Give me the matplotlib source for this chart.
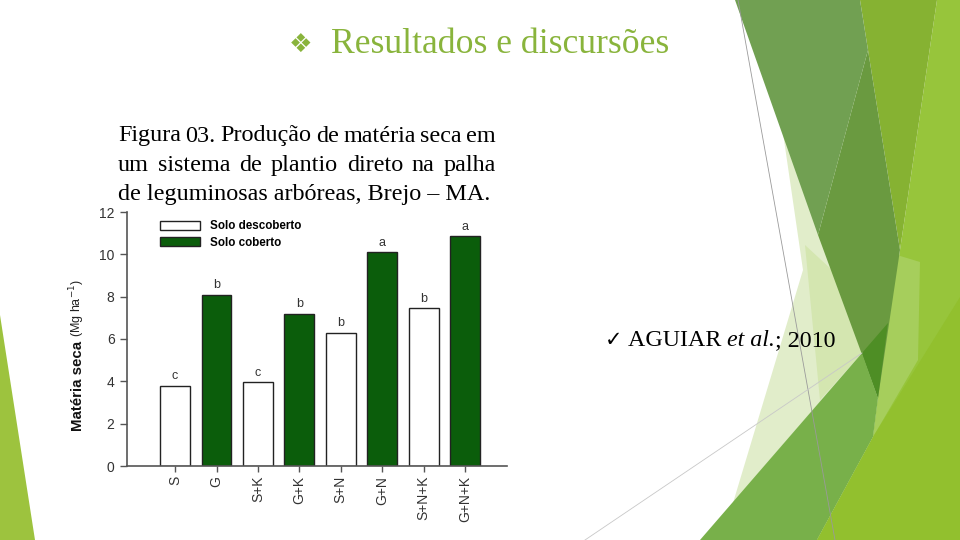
import matplotlib.pyplot as plt
from matplotlib.patches import Polygon, Patch
from matplotlib.lines import Line2D

# dados do gráfico (Figura 03)
categorias = ['S', 'G', 'S+K', 'G+K', 'S+N', 'G+N', 'S+N+K', 'G+N+K']
materia_seca = [3.8, 8.1, 3.95, 7.2, 6.3, 10.1, 7.45, 10.85]
letras = ['c', 'b', 'c', 'b', 'b', 'a', 'b', 'a']
legenda = ['Solo descoberto', 'Solo coberto']

titulo = 'Resultados e discursões'
legenda_fig = ['Figura 03. Produção de matéria seca em',
               'um sistema de plantio direto na palha',
               'de leguminosas arbóreas, Brejo – MA.']

W, H = 960, 540
VERDE = '#0b5d0b'
SERIF = ['Liberation Serif', 'DejaVu Sans']
plt.rcParams['font.family'] = ['Liberation Sans', 'DejaVu Sans']


def fx(x):
    return x / W


def fy(y):
    return 1 - y / H


def poligono(pts, cor):
    fig.add_artist(Polygon([(fx(a), fy(b)) for a, b in pts], closed=True,
                           transform=fig.transFigure, facecolor=cor,
                           edgecolor='none', zorder=-5))


def linha(p0, p1, cor):
    fig.add_artist(Line2D([fx(p0[0]), fx(p1[0])], [fy(p0[1]), fy(p1[1])],
                          transform=fig.transFigure, color=cor, lw=0.6, zorder=-4))


fig = plt.figure(figsize=(9.6, 5.4), dpi=100)
fig.patch.set_facecolor('white')

# fundo decorativo (tema do slide)
poligono([(0, 315), (35, 540), (0, 540)], '#9dc33e')
poligono([(783, 133), (803, 270), (733, 503), (862, 353), (878, 398)], '#e1edca')
poligono([(805, 245), (832, 270), (862, 353), (820, 400)], '#d4e6b0')
poligono([(937, 0), (960, 0), (960, 540), (817, 540), (873, 437), (878, 398), (900, 250)], '#97c53b')
poligono([(897, 255), (920, 262), (918, 360), (873, 437), (878, 398)], '#a6ce5c')
poligono([(860, 0), (937, 0), (900, 250)], '#86b232')
poligono([(735, 0), (860, 0), (868, 50), (818, 235)], '#71a052')
poligono([(868, 50), (900, 250), (878, 398), (818, 235)], '#6a9a40')
poligono([(700, 540), (862, 353), (878, 398), (873, 437), (817, 540)], '#78b04a')
poligono([(817, 540), (873, 437), (960, 297), (960, 540)], '#92c02e')
poligono([(862, 353), (888, 323), (878, 398)], '#4e8e25')
linha((738, 0), (835, 540), '#9a9a9a')
linha((585, 540), (862, 353), '#c8c8c8')

# título
fig.text(fx(289), fy(52), '\u2756', family='DejaVu Sans', fontsize=19,
         color='#89b43c', va='baseline')
fig.text(fx(331), fy(53), titulo, family=SERIF, fontsize=25.7,
         color='#89b43c', va='baseline')

# legenda da figura, justificada
renderer = fig.canvas.get_renderer()
esq, dir_ = 118, 496
for i, texto in enumerate(legenda_fig):
    yb = fy(141.5 + i * 29.5)
    if i < 2:
        palavras = texto.split()
        textos = [fig.text(0, yb, p, family=SERIF, fontsize=17.4, va='baseline')
                  for p in palavras]
        larguras = [t.get_window_extent(renderer).width for t in textos]
        gap = (dir_ - esq - sum(larguras)) / (len(palavras) - 1)
        xp = esq
        for t, w in zip(textos, larguras):
            t.set_x(fx(xp))
            xp += w + gap
    else:
        fig.text(fx(esq), yb, texto, family=SERIF, fontsize=17.4, va='baseline')

# citação
fig.text(fx(605), fy(346), '\u2713', family='DejaVu Sans', fontsize=15, va='baseline')
xp = 628
for parte, estilo in [('AGUIAR ', 'normal'), ('et al.', 'italic'), ('; 2010', 'normal')]:
    t = fig.text(fx(xp), fy(346), parte, family=SERIF, fontsize=17.3,
                 style=estilo, va='baseline')
    xp += t.get_window_extent(renderer).width

# gráfico de barras
ax = fig.add_axes([fx(127), fy(466), (507 - 127) / W, (466 - 212) / H])
pos = list(range(len(categorias)))
cores = ['white' if c.startswith('S') else VERDE for c in categorias]
ax.bar(pos, materia_seca, width=0.72, color=cores, edgecolor='#222222', linewidth=1)
for p, v, l in zip(pos, materia_seca, letras):
    ax.annotate(l, (p, v), xytext=(0, 2.5), textcoords='offset points',
                ha='center', va='bottom', fontsize=9, color='#333333')

ax.set_xlim(-1.16, 8.01)
ax.set_ylim(0, 12)
ax.set_facecolor('none')
for s in ['top', 'right']:
    ax.spines[s].set_visible(False)
for s in ['left', 'bottom']:
    ax.spines[s].set_color('#555555')
    ax.spines[s].set_linewidth(1.2)
ax.set_yticks(range(0, 13, 2))
ax.set_xticks(pos, categorias, rotation=90)
ax.tick_params(axis='y', length=5, width=1, color='#555555', labelsize=10,
               labelcolor='#333333', pad=4)
ax.tick_params(axis='x', length=4, width=1, color='#555555', labelsize=10,
               labelcolor='#333333', pad=3)

ax.legend(handles=[Patch(facecolor='white', edgecolor='#222222', label=legenda[0]),
                   Patch(facecolor=VERDE, edgecolor='#222222', label=legenda[1])],
          loc='upper left', bbox_to_anchor=(0.075, 0.985), frameon=False,
          handlelength=3.4, handleheight=0.75, handletextpad=0.9,
          labelspacing=0.35, borderaxespad=0, prop={'weight': 'bold', 'size': 8.4})

# rótulo do eixo y (parte em negrito + unidade)
t = fig.text(fx(78), fy(431), 'Matéria seca', rotation=90, fontsize=10.8,
             fontweight='bold', ha='center', va='bottom', color='#111111')
topo = t.get_window_extent(renderer).y1
fig.text(fx(77), (topo + 4) / H, '(Mg ha$^{-1}$)', rotation=90, fontsize=9,
         ha='center', va='bottom', color='#222222')

fig.savefig('out.png', dpi=100)
